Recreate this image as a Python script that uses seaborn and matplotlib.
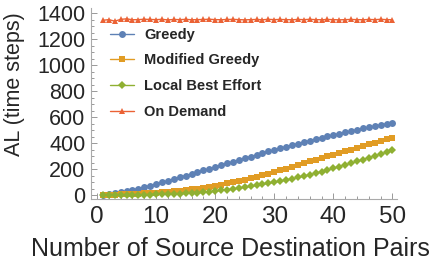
import numpy as np
import pandas as pd
import matplotlib
matplotlib.use("Agg")
import matplotlib.pyplot as plt
import seaborn as sns
from matplotlib.ticker import MultipleLocator

pairs = list(range(1, 51))

greedy = [3, 9, 16, 24, 32, 41, 51, 62, 74, 86,
          99, 112, 125, 138, 151, 164, 177, 190, 203, 217,
          230, 244, 257, 271, 284, 297, 310, 323, 336, 348,
          361, 373, 385, 397, 409, 420, 431, 442, 453, 463,
          473, 483, 493, 503, 513, 522, 531, 540, 549, 558]

modified_greedy = [1, 2, 4, 6, 8, 10, 12, 15, 17, 20,
                   23, 27, 31, 35, 40, 45, 51, 58, 65, 73,
                   81, 90, 99, 109, 119, 130, 142, 154, 166, 179,
                   192, 205, 219, 233, 247, 260, 273, 286, 299, 312,
                   325, 338, 351, 364, 377, 390, 403, 416, 429, 442]

local_best = [0, 1, 1, 2, 2, 3, 3, 4, 5, 6,
              7, 8, 9, 11, 13, 15, 18, 22, 26, 31,
              36, 42, 48, 54, 61, 68, 75, 83, 91, 99,
              108, 117, 126, 136, 146, 157, 169, 181, 194, 207,
              220, 233, 246, 260, 274, 288, 302, 316, 330, 344]

on_demand = [1345, 1350, 1338, 1352, 1356, 1349, 1350, 1353, 1351, 1350,
             1352, 1348, 1351, 1350, 1352, 1349, 1350, 1351, 1353, 1350,
             1349, 1351, 1352, 1350, 1348, 1350, 1351, 1349, 1352, 1350,
             1351, 1350, 1349, 1351, 1350, 1352, 1350, 1349, 1351, 1350,
             1348, 1350, 1351, 1350, 1349, 1351, 1350, 1352, 1350, 1349]

names = ["Greedy", "Modified Greedy", "Local Best Effort", "On Demand"]
colors = ["#5E81B5", "#E19C24", "#8FB032", "#EB6235"]
markers = ["o", "s", "D", "^"]
sizes = [5, 4, 4.5, 5]

df = pd.concat([
    pd.DataFrame({"pairs": pairs, "al": vals, "method": name})
    for name, vals in zip(names, [greedy, modified_greedy, local_best, on_demand])
])

sns.set_theme(style="white")
plt.rcParams["font.family"] = ["Liberation Sans", "DejaVu Sans"]

fig = plt.figure(figsize=(4.36, 2.64), dpi=100)
ax = fig.add_axes([0.209, 0.246, 0.702, 0.724])

for name, col, mk, ms in zip(names, colors, markers, sizes):
    sub = df[df["method"] == name]
    sns.lineplot(data=sub, x="pairs", y="al", ax=ax, color=col, marker=mk,
                 markersize=ms, markeredgewidth=0, linewidth=1.0, label=name)

ax.set_xlim(-1, 50.8)
ax.set_ylim(-30, 1440)
ax.xaxis.set_major_locator(MultipleLocator(10))
ax.xaxis.set_minor_locator(MultipleLocator(2))
ax.yaxis.set_major_locator(MultipleLocator(200))
ax.yaxis.set_minor_locator(MultipleLocator(50))

for s in ["top", "right"]:
    ax.spines[s].set_visible(False)
for s in ["left", "bottom"]:
    ax.spines[s].set_color("#aaaaaa")
    ax.spines[s].set_linewidth(0.8)

ax.tick_params(which="both", direction="in", color="#999999", width=0.7,
               left=True, bottom=True)
ax.tick_params(which="major", length=4)
ax.tick_params(which="minor", length=2)
ax.tick_params(axis="x", labelsize=17.5, pad=5)
ax.tick_params(axis="y", labelsize=15.5, pad=4)

ax.set_xlabel("Number of Source Destination Pairs", fontsize=18)
ax.set_ylabel("AL (time steps)", fontsize=15.5)
ax.xaxis.set_label_coords(0.454, -0.2)
ax.yaxis.set_label_coords(-0.215, 0.6)

ax.legend(loc="upper left", bbox_to_anchor=(0.02, 0.965), frameon=False,
          prop={"weight": "bold", "size": 10.5}, labelspacing=0.8,
          handlelength=1.6, handletextpad=0.7)

fig.savefig("out.png", dpi=100)
